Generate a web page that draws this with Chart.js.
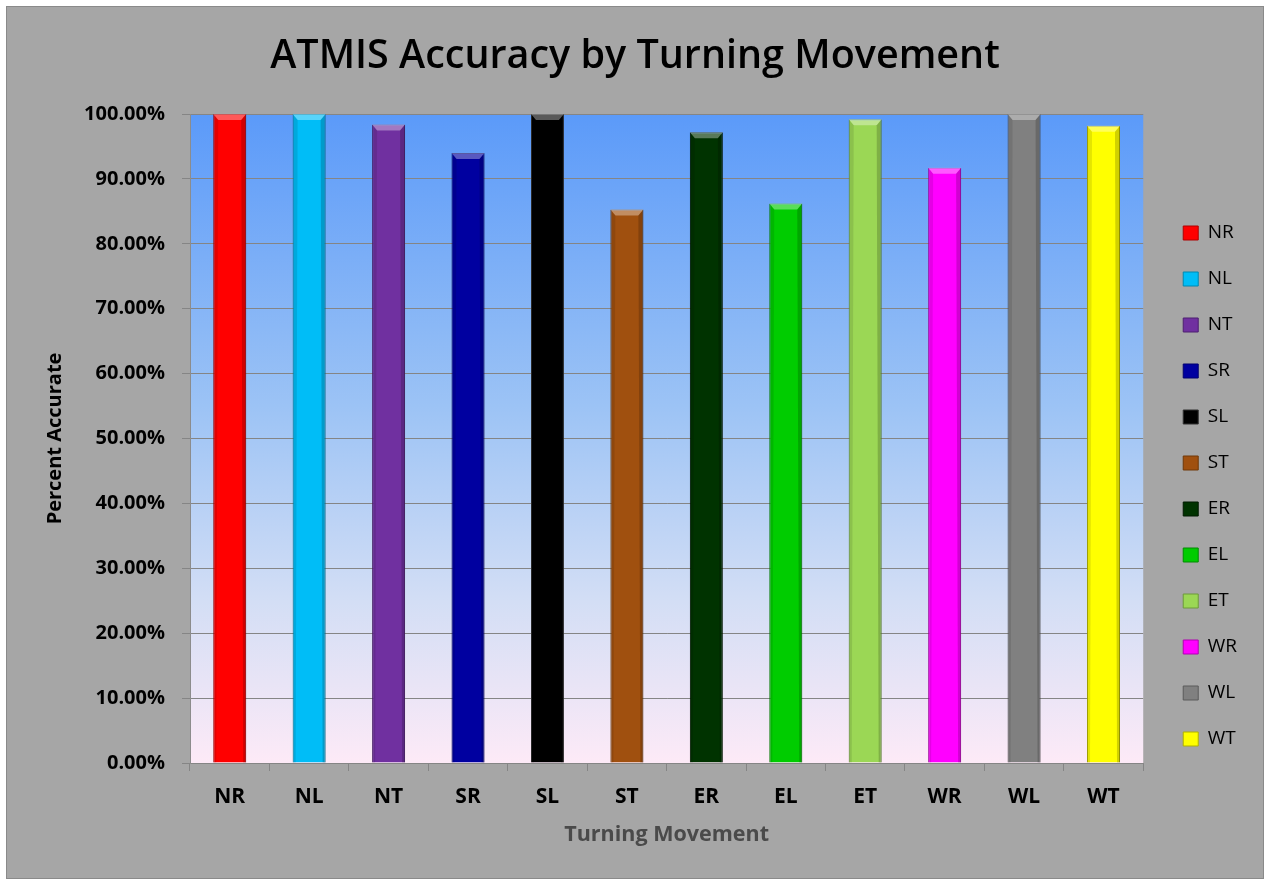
<!DOCTYPE html>
<html>
<head>
<meta charset="utf-8">
<title>ATMIS Accuracy by Turning Movement</title>
<script src="https://cdn.jsdelivr.net/npm/chart.js@4.4.1/dist/chart.umd.min.js"></script>
<style>
  html, body { margin: 0; padding: 0; background: #fff; }
  #frame {
    position: absolute; left: 6px; top: 6px;
    width: 1256px; height: 871px;
    background: #a6a6a6; border: 1px solid #8a8a8a;
  }
  #chart { display: block; }
</style>
</head>
<body>
<div id="frame"><canvas id="chart" width="1256" height="871"></canvas></div>
<script>
// values
const categories = ['NR', 'NL', 'NT', 'SR', 'SL', 'ST', 'ER', 'EL', 'ET', 'WR', 'WL', 'WT'];
const accuracy = [100, 100, 98.4, 94.0, 100, 85.3, 97.2, 86.2, 99.2, 91.7, 100, 98.2];
const barColors = ['#ff0000', '#00bdf7', '#7030a0', '#0000a0', '#000000', '#a0500f',
                   '#003300', '#00cc00', '#9bd755', '#ff00ff', '#808080', '#ffff00'];
const edgeColors = ['#b00000', '#0088b0', '#4d1f70', '#000070', '#303030', '#703808',
                    '#001a00', '#008c00', '#6c9a3a', '#b000b0', '#5a5a5a', '#b0b000'];

const FONT = "'Open Sans', 'DejaVu Sans', sans-serif";

// light-blue to pink wash behind the bars
const plotBackground = {
  id: 'plotBackground',
  beforeDraw(chart) {
    const { ctx, chartArea: a } = chart;
    const g = ctx.createLinearGradient(0, a.top, 0, a.bottom);
    g.addColorStop(0, '#5b9af9');
    g.addColorStop(0.45, '#9cc3f5');
    g.addColorStop(0.75, '#d3def5');
    g.addColorStop(1, '#fdeaf7');
    ctx.save();
    ctx.fillStyle = g;
    ctx.fillRect(a.left, a.top, a.right - a.left, a.bottom - a.top);
    ctx.restore();
  }
};

// rough version of the bevelled look of the bars: lit top, shaded sides
const barBevel = {
  id: 'barBevel',
  afterDatasetsDraw(chart) {
    const { ctx } = chart;
    const meta = chart.getDatasetMeta(0);
    ctx.save();
    meta.data.forEach(bar => {
      const { x, y, base, width } = bar.getProps(['x', 'y', 'base', 'width'], true);
      const l = x - width / 2, r = x + width / 2, d = 5;
      ctx.fillStyle = 'rgba(255,255,255,0.35)';
      ctx.beginPath();
      ctx.moveTo(l, y); ctx.lineTo(r, y); ctx.lineTo(r - d, y + d + 1); ctx.lineTo(l + d, y + d + 1);
      ctx.closePath(); ctx.fill();
      ctx.fillStyle = 'rgba(0,0,0,0.10)';
      ctx.beginPath();
      ctx.moveTo(l, y); ctx.lineTo(l + d, y + d + 1); ctx.lineTo(l + d - 2, base); ctx.lineTo(l, base);
      ctx.closePath(); ctx.fill();
      ctx.fillStyle = 'rgba(0,0,0,0.18)';
      ctx.beginPath();
      ctx.moveTo(r, y); ctx.lineTo(r - d, y + d + 1); ctx.lineTo(r - d + 2, base); ctx.lineTo(r, base);
      ctx.closePath(); ctx.fill();
    });
    ctx.restore();
  }
};

new Chart(document.getElementById('chart'), {
  type: 'bar',
  data: {
    labels: categories,
    datasets: [{
      label: 'Percent Accurate',
      data: accuracy,
      backgroundColor: barColors,
      borderColor: edgeColors,
      borderWidth: 1,
      categoryPercentage: 1,
      barPercentage: 0.415
    }]
  },
  options: {
    responsive: false,
    animation: false,
    devicePixelRatio: 1,
    // equal side padding keeps the title centred on the whole frame
    layout: { padding: { top: 0, right: 16, bottom: 0, left: 16 } },
    plugins: {
      title: {
        display: true,
        text: 'ATMIS Accuracy by Turning Movement',
        color: '#000',
        font: { family: FONT, size: 39.5, weight: '600' },
        padding: { top: 26, bottom: 33.6 }
      },
      legend: {
        position: 'right',
        onClick: () => {},
        // empty title only pushes the entries down to where they sit in the picture
        title: { display: true, text: '', font: { size: 10 }, padding: { top: 75, bottom: 0 } },
        labels: {
          boxWidth: 15,
          boxHeight: 14,
          padding: 27,
          color: '#000',
          font: { family: FONT, size: 19 },
          generateLabels(chart) {
            const ds = chart.data.datasets[0];
            return chart.data.labels.map((l, i) => ({
              text: l,
              fillStyle: ds.backgroundColor[i],
              strokeStyle: ds.borderColor[i],
              lineWidth: 1,
              fontColor: '#000',
              hidden: false,
              index: i
            }));
          }
        }
      },
      tooltip: { enabled: false }
    },
    scales: {
      x: {
        offset: true,
        grid: { display: true, drawOnChartArea: false, tickLength: 8, color: '#858585' },
        border: { color: '#858585' },
        ticks: { color: '#000', padding: 13, font: { family: FONT, size: 21, weight: 'bold' } },
        title: {
          display: true,
          text: 'Turning Movement',
          color: '#4a4a4a',
          font: { family: FONT, size: 21.5, weight: 'bold' },
          padding: { top: 0, bottom: 30 }
        },
        afterFit(s) { s.height = 115; }
      },
      y: {
        min: 0,
        max: 100,
        ticks: {
          stepSize: 10,
          color: '#000',
          padding: 17,
          font: { family: FONT, size: 20, weight: 'bold' },
          callback: v => v.toFixed(2) + '%'
        },
        grid: { color: '#858585', tickLength: 8 },
        border: { color: '#8c8c8c' },
        title: {
          display: true,
          text: 'Percent Accurate',
          color: '#000',
          font: { family: FONT, size: 20, weight: 'bold' },
          padding: { top: 20, bottom: 0 }
        },
        afterFit(s) { s.width = 167; }
      },
      gap: {
        type: 'linear',
        position: 'right',
        display: true,
        grid: { display: false },
        border: { display: false },
        ticks: { display: false },
        afterFit(s) { s.width = 13; }
      }
    }
  },
  plugins: [plotBackground, barBevel]
});
</script>
</body>
</html>
